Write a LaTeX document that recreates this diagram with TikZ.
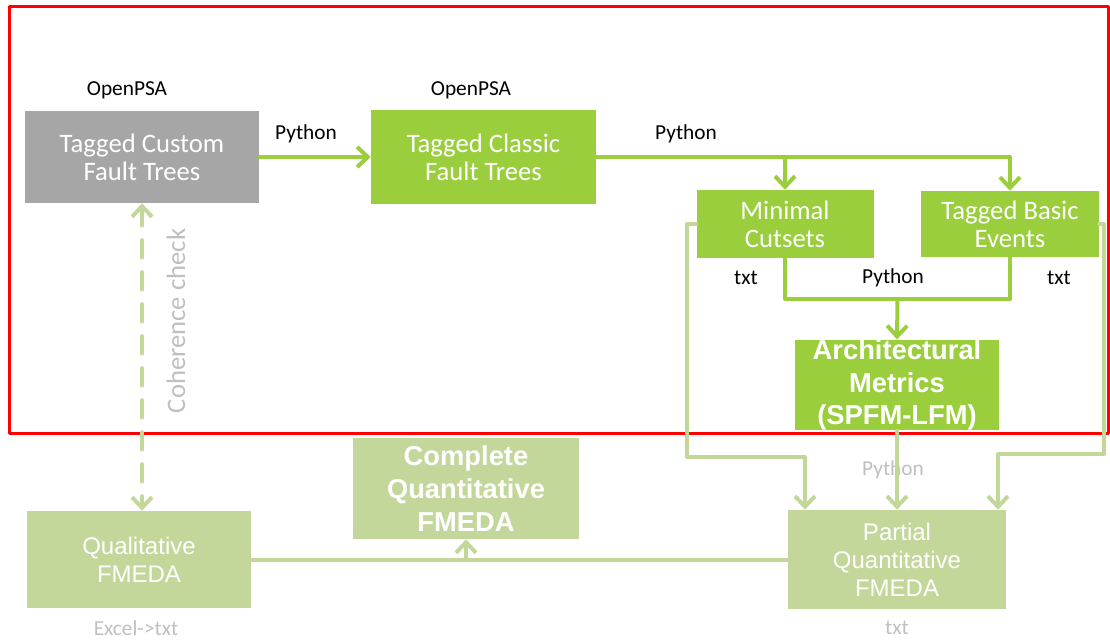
\documentclass[tikz,border=0pt]{standalone}
\usepackage{fontspec}
\setmainfont{Carlito}
\newfontfamily\arialfont{Liberation Sans}
\usetikzlibrary{arrows.meta}
\definecolor{boxgrey}{RGB}{166,166,166}
\definecolor{boxgreen}{RGB}{154,206,60}
\definecolor{palegreen}{RGB}{196,215,155}
\definecolor{palegrey}{RGB}{191,191,191}
\definecolor{framered}{RGB}{255,0,0}
\tikzset{
  box/.style={inner sep=0pt,align=center,text=white},
  topbox/.style={box,font=\fontsize{20}{21}\selectfont},
  lowbox/.style={box,fill=palegreen,font=\arialfont\fontsize{18}{21}\selectfont},
  boldbox/.style={box,font=\arialfont\bfseries\fontsize{20.5}{24.5}\selectfont},
  note/.style={font=\fontsize{16}{19}\selectfont},
  palenote/.style={note,text=palegrey},
  flow/.style={draw=boxgreen,line width=3pt},
  paleflow/.style={draw=palegreen,line width=3pt},
}

\begin{document}
\begin{tikzpicture}[line cap=round,line join=round,>={Straight Barb[length=8pt,width=15pt]},x=0.75pt,y=-0.75pt]
\clip(0,0) rectangle (1110,641);
\draw [draw=framered,line width=2.25pt] (9,7) rectangle (1108,433);
% boxes
\draw (142,157) node[topbox,fill=boxgrey,minimum width=175.5pt,minimum height=69pt] (custom) {Tagged Custom\\Fault Trees};
\draw (483.5,157) node[topbox,fill=boxgreen,minimum width=168.75pt,minimum height=70.5pt] (classic) {Tagged Classic\\Fault Trees};
\draw (785,224) node[topbox,fill=boxgreen,minimum width=132.75pt,minimum height=51pt] (cutsets) {Minimal\\Cutsets};
\draw (1010,224) node[topbox,fill=boxgreen,minimum width=133.5pt,minimum height=49.5pt] (basic) {Tagged Basic\\Events};
\draw (897,385) node[boldbox,fill=boxgreen,minimum width=153pt,minimum height=67.5pt] (metrics) {Architectural\\Metrics\\(SPFM-LFM)};
\draw (466,488.5) node[boldbox,fill=palegreen,minimum width=169.5pt,minimum height=75.75pt] (complete) {Complete\\Quantitative\\FMEDA};
\draw (139,559.5) node[lowbox,minimum width=168pt,minimum height=72.75pt] (qualitative) {Qualitative\\FMEDA};
\draw (897,559.5) node[lowbox,minimum width=163.5pt,minimum height=74.25pt] (partial) {Partial\\Quantitative\\FMEDA};
% texts
\draw (127,90) node[note] (psaone) {OpenPSA};
\draw (471,90) node[note] (psatwo) {OpenPSA};
\draw (306,134) node[note] (pyone) {Python};
\draw (686,134) node[note] (pytwo) {Python};
\draw (893,278) node[note] (pythree) {Python};
\draw (746,278) node[note] (txtone) {txt};
\draw (1059,278) node[note] (txttwo) {txt};
\draw (893,470) node[palenote] (pyfour) {Python};
\draw (136,628) node[palenote] (excel) {Excel->txt};
\draw (897,628) node[palenote] (txtthree) {txt};
\draw (176,321) node[rotate=90,font=\fontsize{20}{24}\selectfont,text=palegrey] (coherence) {Coherence check};
% green flow
\coordinate (join) at (897.5,299);
\draw [flow,->] (custom) -- (classic);
\draw [flow,->] (classic.east) -| (cutsets.north);
\draw [flow,->] (classic.east) -| (basic.north);
\draw [flow] (cutsets.south) |- (join) -| (basic.south);
\draw [flow,->] (join) -- (metrics.north);
% pale flow
\draw [paleflow,->] (cutsets.west) -| (687,457) -| ([xshift=-69pt]partial.north);
\draw [paleflow,->] (basic.east) -| (1104,454) -| ([xshift=75.75pt]partial.north);
\draw [paleflow,->] (metrics.south) -- (partial.north);
\draw [paleflow] (qualitative.east) -- (partial.west);
\draw [paleflow,->] (complete.south |- qualitative.east) -- (complete.south);
\draw [paleflow,dashed,dash pattern=on 13pt off 11pt,<->] (custom.south) -- (custom.south |- qualitative.north);
\end{tikzpicture}
\end{document}
